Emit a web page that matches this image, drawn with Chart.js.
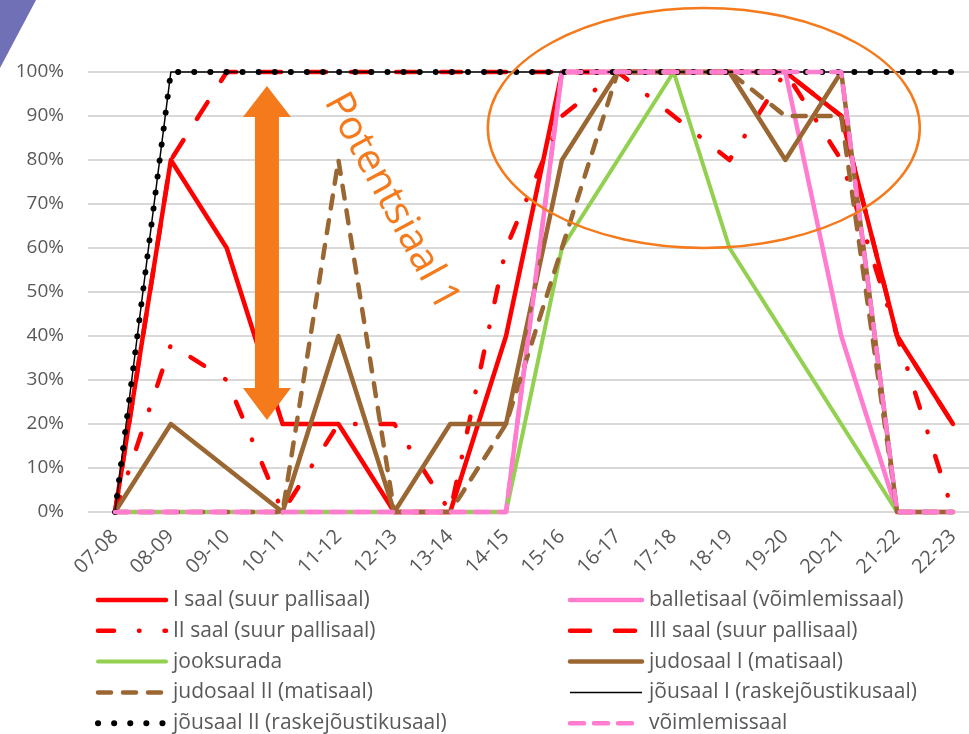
<!DOCTYPE html>
<html>
<head>
<meta charset="utf-8">
<script src="https://cdn.jsdelivr.net/npm/chart.js@4.4.1/dist/chart.umd.min.js"></script>
<style>
html, body { margin: 0; padding: 0; background: #fff; }
</style>
</head>
<body>
<canvas id="saal-canvas" width="969" height="734"></canvas>
<script>
// tunnid
var hours = ['07-08', '08-09', '09-10', '10-11', '11-12', '12-13', '13-14', '14-15', '15-16', '16-17', '17-18', '18-19', '19-20', '20-21', '21-22', '22-23'];

var yTicks = [0, 10, 20, 30, 40, 50, 60, 70, 80, 90, 100];

// täituvus %
var saal1Data = [0, 80, 60, 20, 20, 0, 0, 40, 100, 100, 100, 100, 100, 90, 40, 20];
var balletData = [0, 0, 0, 0, 0, 0, 0, 0, 100, 100, 100, 100, 100, 40, 0, 0];
var saal2Data = [0, 38, 30, 0, 20, 20, 0, 60, 90, 100, 90, 80, 100, 80, 40, 0];
var saal3Data = [0, 80, 100, 100, 100, 100, 100, 100, 100, 100, 100, 100, 100, 90, 40, 20];
var jooksData = [0, 0, 0, 0, 0, 0, 0, 0, 60, 80, 100, 60, 40, 20, 0, 0];
var judo1Data = [0, 20, 10, 0, 40, 0, 20, 20, 80, 100, 100, 100, 80, 100, 0, 0];
var judo2Data = [0, 0, 0, 0, 80, 0, 0, 20, 60, 100, 100, 100, 90, 90, 0, 0];
var jou1Data = [0, 100, 100, 100, 100, 100, 100, 100, 100, 100, 100, 100, 100, 100, 100, 100];
var jou2Data = [0, 100, 100, 100, 100, 100, 100, 100, 100, 100, 100, 100, 100, 100, 100, 100];
var voimlData = [0, 0, 0, 0, 0, 0, 0, 0, 100, 100, 100, 100, 100, 100, 0, 0];

var textColor = '#595959';
var orange = '#F47A1B';

function points(arr) {
    return arr.map(function (v, i) { return { x: i, y: v }; });
}

function series(label, data, color, width, dash) {
    return {
        label: label,
        data: points(data),
        borderColor: color,
        backgroundColor: color,
        borderWidth: width,
        borderDash: dash || [],
        borderCapStyle: 'round',
        borderJoinStyle: 'round',
        pointRadius: 0,
        tension: 0,
        fill: false,
        clip: false
    };
}

var datasets = [
    series('I saal (suur pallisaal)', saal1Data, '#FF0000', 4.5),
    series('balletisaal (võimlemissaal)', balletData, '#FF7CCF', 4.5),
    series('II saal (suur pallisaal)', saal2Data, '#FF0000', 4.5, [16, 25, 0.5, 25]),
    series('III saal (suur pallisaal)', saal3Data, '#FF0000', 4.5, [20, 25]),
    series('jooksurada', jooksData, '#92D050', 4),
    series('judosaal I (matisaal)', judo1Data, '#9A6632', 4.5),
    series('judosaal II (matisaal)', judo2Data, '#9A6632', 4.5, [13, 12]),
    series('jõusaal I (raskejõustikusaal)', jou1Data, '#000000', 1.5),
    series('jõusaal II (raskejõustikusaal)', jou2Data, '#000000', 6, [0.1, 16]),
    series('võimlemissaal', voimlData, '#FF7CCF', 4.5, [14, 10])
];
// excelis on viimane seeria pealmine
datasets.forEach(function (ds, i) { ds.order = -i; });

var bgPlugin = {
    id: 'bg',
    beforeDraw: function (chart) {
        var ctx = chart.ctx;
        ctx.save();
        ctx.fillStyle = '#ffffff';
        ctx.fillRect(0, 0, chart.width, chart.height);
        ctx.fillStyle = '#7070b6';
        ctx.beginPath();
        ctx.moveTo(0, 0);
        ctx.lineTo(36, 0);
        ctx.lineTo(0, 68);
        ctx.closePath();
        ctx.fill();
        ctx.restore();
    }
};

var notesPlugin = {
    id: 'notes',
    afterDatasetsDraw: function (chart) {
        var ctx = chart.ctx;
        var xs = chart.scales.x, ys = chart.scales.y;
        ctx.save();
        ctx.fillStyle = orange;
        ctx.strokeStyle = orange;

        // nool
        var ax = xs.getPixelForValue(2.72);
        var top = ys.getPixelForValue(96.8);
        var bot = ys.getPixelForValue(20.9);
        ctx.beginPath();
        ctx.moveTo(ax, top);
        ctx.lineTo(ax + 24, top + 31);
        ctx.lineTo(ax + 12, top + 31);
        ctx.lineTo(ax + 12, bot - 32);
        ctx.lineTo(ax + 24, bot - 32);
        ctx.lineTo(ax, bot);
        ctx.lineTo(ax - 24, bot - 32);
        ctx.lineTo(ax - 12, bot - 32);
        ctx.lineTo(ax - 12, top + 31);
        ctx.lineTo(ax - 24, top + 31);
        ctx.closePath();
        ctx.fill();

        // ovaal
        ctx.lineWidth = 2.5;
        ctx.beginPath();
        ctx.ellipse(xs.getPixelForValue(10.54), ys.getPixelForValue(87.3), 216, 120, 0, 0, Math.PI * 2);
        ctx.stroke();

        // tekst
        ctx.translate(xs.getPixelForValue(4.95), ys.getPixelForValue(70.5));
        ctx.rotate(61.5 * Math.PI / 180);
        ctx.font = '40px "Open Sans"';
        ctx.textAlign = 'center';
        ctx.textBaseline = 'middle';
        ctx.fillText('Potentsiaal 1', 0, 0);
        ctx.restore();
    }
};

var legendPlugin = {
    id: 'twoColLegend',
    afterDraw: function (chart) {
        var ctx = chart.ctx;
        ctx.save();
        chart.data.datasets.forEach(function (ds, i) {
            var col = i % 2, row = Math.floor(i / 2);
            var x0 = col === 0 ? 98 : 570;
            var x1 = col === 0 ? 166 : 642;
            var y = 600 + row * 30.8;
            ctx.beginPath();
            ctx.setLineDash(ds.borderDash);
            ctx.lineCap = ds.borderWidth < 2 ? 'butt' : 'round';
            ctx.lineWidth = ds.borderWidth;
            ctx.strokeStyle = ds.borderColor;
            ctx.moveTo(x0, y);
            ctx.lineTo(x1, y);
            ctx.stroke();
            ctx.setLineDash([]);
            ctx.fillStyle = textColor;
            ctx.font = '21px "Open Sans"';
            ctx.textBaseline = 'middle';
            ctx.fillText(ds.label, x1 + 7, y);
        });
        ctx.restore();
    }
};

var ctx = document.getElementById('saal-canvas').getContext('2d');

var saalChart = new Chart(ctx, {
    type: 'line',
    data: { datasets: datasets },
    plugins: [bgPlugin, notesPlugin, legendPlugin],
    options: {
        responsive: false,
        animation: false,
        layout: { padding: { top: 72, left: 0, right: 0, bottom: 0 } },
        plugins: {
            legend: { display: false },
            tooltip: { enabled: false }
        },
        scales: {
            x: {
                type: 'linear',
                min: -0.483,
                max: 15.287,
                afterBuildTicks: function (scale) {
                    scale.ticks = hours.map(function (h, i) { return { value: i }; });
                },
                afterFit: function (scale) {
                    scale.height = 222;
                    scale.paddingLeft = 0;
                    scale.paddingRight = 0;
                },
                ticks: {
                    autoSkip: false,
                    minRotation: 45,
                    maxRotation: 45,
                    padding: 5,
                    color: textColor,
                    font: { family: 'Open Sans', size: 20 },
                    callback: function (value) {
                        return hours[value] !== undefined ? hours[value] : '';
                    }
                },
                grid: { display: false },
                border: { display: false }
            },
            y: {
                min: 0,
                max: 100,
                afterBuildTicks: function (scale) {
                    scale.ticks = yTicks.map(function (v) { return { value: v }; });
                },
                afterFit: function (scale) {
                    scale.width = 88;
                },
                ticks: {
                    padding: 24,
                    color: textColor,
                    font: { family: 'Open Sans', size: 19 },
                    callback: function (value) { return value + '%'; }
                },
                grid: {
                    color: '#d9d9d9',
                    lineWidth: 2,
                    drawTicks: false
                },
                border: { display: false }
            }
        }
    }
});
</script>
</body>
</html>
